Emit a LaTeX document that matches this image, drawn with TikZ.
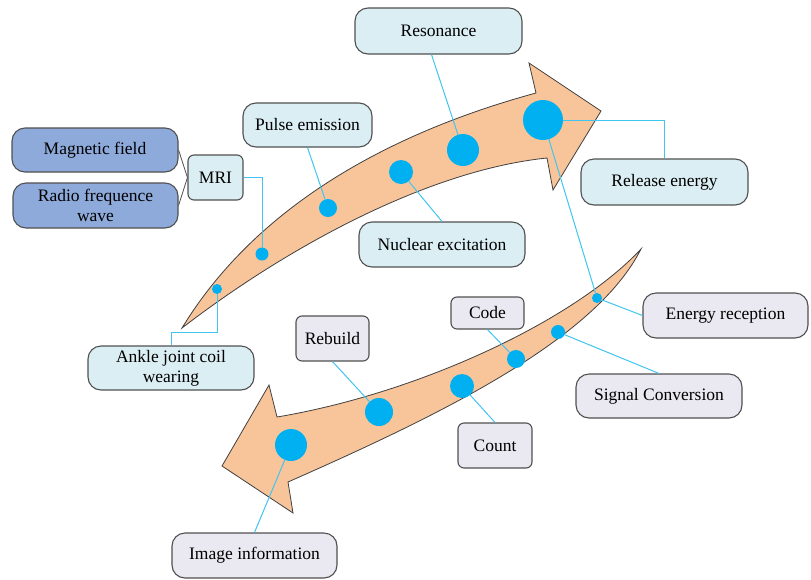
\documentclass[tikz,border=0pt]{standalone}
\usepackage{fontspec}
\setmainfont{Liberation Serif}
\definecolor{lblue}{HTML}{DBEEF4}
\definecolor{lav}{HTML}{EAE8F0}
\definecolor{dblue}{HTML}{8EAADB}
\definecolor{bord}{HTML}{505050}
\definecolor{dotc}{HTML}{00B0F0}
\definecolor{linec}{HTML}{40C4F0}
\definecolor{peach}{HTML}{F8C49A}
\tikzset{
  boxst/.style={draw=bord, line width=1.1pt, rounded corners=13pt, align=center, inner sep=2pt,
    font=\rmfamily\fontsize{17.5}{20}\selectfont},
  smallbox/.style={boxst, rounded corners=6pt},
  bluebox/.style={fill=lblue},
  lavbox/.style={fill=lav},
  darkbox/.style={fill=dblue},
  dotst/.style={circle, fill=dotc, inner sep=0pt, outer sep=0pt},
  conn/.style={draw=linec, line width=1pt},
  grayconn/.style={draw=bord, line width=0.8pt},
  arrowst/.style={draw=black!75, line width=0.8pt, fill=peach, line join=miter}
}
\begin{document}
\begin{tikzpicture}[x=1pt,y=-1pt]
\useasboundingbox (0,0) rectangle (811,579);
% arrows
\draw[arrowst] (182,328) .. controls (260,200) and (400,130) .. (536,93) -- (529,63) -- (601,111) -- (553,190) -- (547,158) .. controls (430,170) and (290,245) .. (182,328) -- cycle;
\draw[arrowst] (641,249) .. controls (575,320) and (420,393) .. (277,417) -- (269,385) -- (222,466) -- (293,513) -- (288,482) .. controls (440,415) and (595,340) .. (641,249) -- cycle;
% boxes
\node[boxst,darkbox,minimum width=166pt,minimum height=44pt] (mag) at (95,150) {Magnetic field};
\node[boxst,darkbox,minimum width=165pt,minimum height=45pt] (radio) at (95.5,205.5) {Radio frequence\\wave};
\node[smallbox,bluebox,minimum width=55pt,minimum height=45pt] (mri) at (215.5,177.5) {MRI};
\node[boxst,bluebox,minimum width=129pt,minimum height=44pt] (pulse) at (307.5,125) {Pulse emission};
\node[boxst,bluebox,minimum width=166pt,minimum height=45pt] (nuc) at (442,244.5) {Nuclear excitation};
\node[boxst,bluebox,minimum width=167pt,minimum height=46pt] (res) at (438.5,31) {Resonance};
\node[boxst,bluebox,minimum width=167pt,minimum height=46pt] (rel) at (664.5,182) {Release energy};
\node[boxst,lavbox,minimum width=165pt,minimum height=45pt] (er) at (725.5,315.5) {Energy reception};
\node[boxst,lavbox,minimum width=166pt,minimum height=44pt] (sig) at (659,396) {Signal Conversion};
\node[smallbox,lavbox,minimum width=73pt,minimum height=32pt] (code) at (487.5,313) {Code};
\node[smallbox,lavbox,minimum width=74pt,minimum height=45pt] (count) at (495,445.5) {Count};
\node[smallbox,lavbox,minimum width=73pt,minimum height=45pt] (rebuild) at (332.5,338.5) {Rebuild};
\node[boxst,lavbox,minimum width=165pt,minimum height=45pt] (img) at (254.5,555.5) {Image information};
\node[boxst,bluebox,minimum width=166pt,minimum height=44pt] (ankle) at (171,368) {Ankle joint coil\\wearing};
% dots
\node[dotst,minimum size=13pt] (dmri) at (262,254) {};
\node[dotst,minimum size=10pt] (dankle) at (217,289) {};
\node[dotst,minimum size=18pt] (dpulse) at (328,208) {};
\node[dotst,minimum size=24pt] (dnuc) at (401,172) {};
\node[dotst,minimum size=32pt] (dres) at (463,150) {};
\node[dotst,minimum size=40pt] (drel) at (543,120) {};
\node[dotst,minimum size=10pt] (der) at (597,298) {};
\node[dotst,minimum size=14pt] (dsig) at (558,332) {};
\node[dotst,minimum size=18pt] (dcode) at (516,359) {};
\node[dotst,minimum size=24pt] (dcount) at (462,386) {};
\node[dotst,minimum size=28pt] (drebuild) at (379,412) {};
\node[dotst,minimum size=32pt] (dimg) at (291,445) {};
\coordinate (ak) at (217,332);
% connectors
\draw[grayconn] (mag.east) -- (mri.west);
\draw[grayconn] (radio.east) -- (mri.west);
\draw[conn] (mri.east) -| (dmri);
\draw[conn] (dankle) -- (ak) -| (ankle.north);
\draw[conn] (pulse.south) -- (dpulse);
\draw[conn] (dnuc) -- (nuc.north);
\draw[conn] (dres) -- ([xshift=-7pt]res.south);
\draw[conn] (drel) -| (rel.north);
\draw[conn] (drel) -- (der);
\draw[conn] (der) -- (er.west);
\draw[conn] (dsig) -- (sig.north);
\draw[conn] (code.south) -- (dcode);
\draw[conn] (dcount) -- (count.north);
\draw[conn] (rebuild.south) -- (drebuild);
\draw[conn] (dimg) -- (img.north);
\end{tikzpicture}
\end{document}
